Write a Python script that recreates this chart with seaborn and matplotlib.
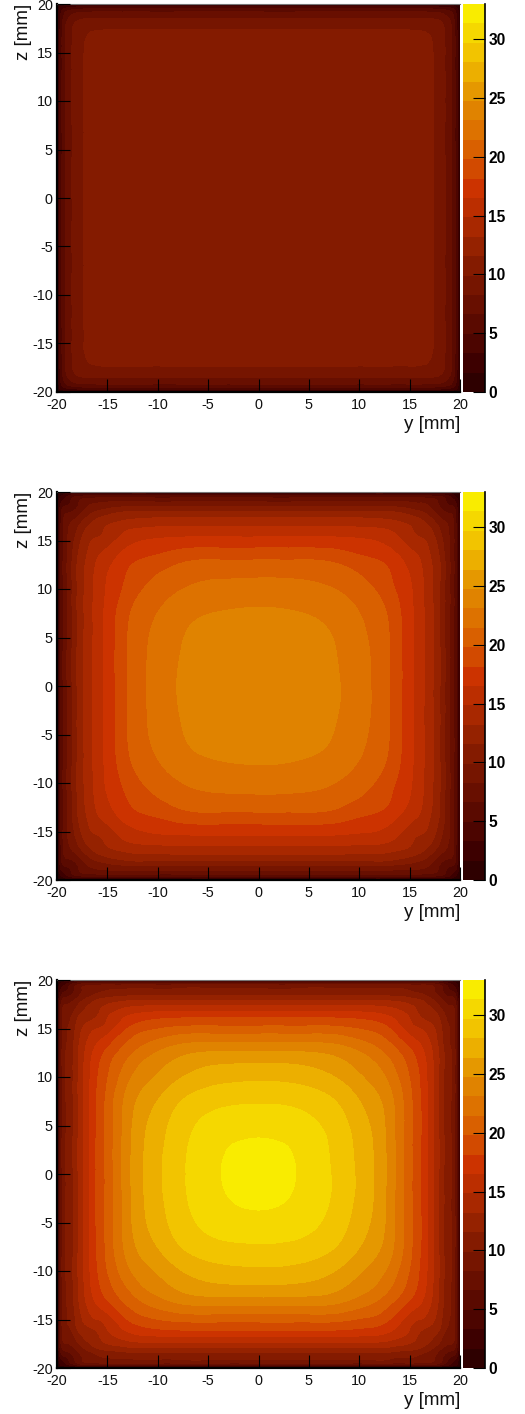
import numpy as np
import pandas as pd
import matplotlib
matplotlib.use('Agg')
import matplotlib.pyplot as plt
import matplotlib.tri as mtri
from matplotlib.colors import ListedColormap, BoundaryNorm
import seaborn as sns

sns.set_theme(style='ticks')
plt.rcParams['font.family'] = ['Liberation Sans', 'DejaVu Sans']
plt.rcParams['axes.unicode_minus'] = False

# distance from the centre in mm, the table is one quadrant of each map
GRID = [0, 4, 8, 11, 13, 15, 16, 17, 18, 19, 19.5, 20]

MAP_TOP = [
    [10.6, 10.6, 10.6, 10.6, 10.6, 10.5, 10.3, 10.05, 9.2, 7.3, 5.0, 0.4],
    [10.6, 10.6, 10.6, 10.6, 10.6, 10.5, 10.3, 10.05, 9.2, 7.3, 5.0, 0.4],
    [10.6, 10.6, 10.6, 10.6, 10.6, 10.5, 10.3, 10.05, 9.2, 7.3, 5.0, 0.4],
    [10.6, 10.6, 10.6, 10.6, 10.6, 10.5, 10.3, 10.05, 9.2, 7.3, 5.0, 0.4],
    [10.6, 10.6, 10.6, 10.6, 10.6, 10.5, 10.3, 10.05, 9.2, 7.3, 5.0, 0.4],
    [10.5, 10.5, 10.5, 10.5, 10.5, 10.4, 10.25, 10.03, 9.2, 7.3, 5.0, 0.4],
    [10.3, 10.3, 10.3, 10.3, 10.3, 10.25, 10.2, 10.0, 9.15, 7.3, 5.0, 0.4],
    [10.05, 10.05, 10.05, 10.05, 10.05, 10.03, 10.0, 9.85, 9.05, 7.25, 4.9, 0.4],
    [9.2, 9.2, 9.2, 9.2, 9.2, 9.2, 9.15, 9.05, 8.6, 7.0, 4.7, 0.4],
    [7.3, 7.3, 7.3, 7.3, 7.3, 7.3, 7.3, 7.25, 7.0, 5.8, 4.0, 0.3],
    [5.0, 5.0, 5.0, 5.0, 5.0, 5.0, 5.0, 4.9, 4.7, 4.0, 2.8, 0.2],
    [0.4, 0.4, 0.4, 0.4, 0.4, 0.4, 0.4, 0.4, 0.4, 0.3, 0.2, 0.1],
]
MAP_MID = [
    [24.6, 24.2, 23.2, 21.6, 19.8, 17.2, 15.6, 13.8, 11.6, 8.4, 6.0, 0.5],
    [24.2, 23.95, 23.0, 21.5, 19.8, 17.2, 15.6, 13.8, 11.6, 8.4, 6.0, 0.5],
    [23.2, 23.0, 22.3, 20.9, 19.4, 17.1, 15.6, 13.8, 11.6, 8.4, 6.0, 0.5],
    [21.6, 21.5, 20.9, 19.7, 18.4, 16.7, 15.4, 13.7, 11.6, 8.4, 6.0, 0.5],
    [19.8, 19.8, 19.4, 18.4, 17.6, 15.9, 14.9, 13.4, 11.5, 8.4, 6.0, 0.5],
    [17.2, 17.2, 17.1, 16.7, 15.9, 14.4, 13.7, 12.7, 10.7, 8.3, 6.0, 0.5],
    [15.6, 15.6, 15.6, 15.4, 14.9, 13.7, 12.6, 11.9, 10.0, 8.1, 5.9, 0.5],
    [13.8, 13.8, 13.8, 13.7, 13.4, 12.7, 11.9, 10.7, 8.9, 7.7, 5.7, 0.5],
    [11.6, 11.6, 11.6, 11.6, 11.5, 10.7, 10.0, 8.9, 7.2, 6.2, 5.2, 0.4],
    [8.4, 8.4, 8.4, 8.4, 8.4, 8.3, 8.1, 7.7, 6.2, 4.5, 3.6, 0.3],
    [6.0, 6.0, 6.0, 6.0, 6.0, 6.0, 5.9, 5.7, 5.2, 3.6, 2.0, 0.2],
    [0.5, 0.5, 0.5, 0.5, 0.5, 0.5, 0.5, 0.5, 0.4, 0.3, 0.2, 0.1],
]
MAP_LOW = [
    [32.6, 31.2, 29.3, 26.9, 24.2, 20.5, 18.4, 15.9, 12.9, 10.2, 8.25, 0.5],
    [31.2, 30.7, 29.0, 26.7, 24.1, 20.5, 18.4, 15.9, 12.9, 10.2, 8.25, 0.5],
    [29.3, 29.0, 27.7, 25.6, 23.6, 20.4, 18.3, 15.9, 12.9, 10.2, 8.25, 0.5],
    [26.9, 26.7, 25.6, 23.9, 22.1, 19.6, 17.9, 15.7, 12.9, 10.2, 8.25, 0.5],
    [24.2, 24.1, 23.6, 22.1, 20.4, 18.3, 16.9, 15.2, 12.7, 10.1, 8.25, 0.5],
    [20.5, 20.5, 20.4, 19.6, 18.3, 15.9, 15.0, 14.0, 12.1, 9.9, 8.2, 0.5],
    [18.4, 18.4, 18.3, 17.9, 16.9, 15.0, 13.5, 12.8, 11.5, 9.4, 8.1, 0.5],
    [15.9, 15.9, 15.9, 15.7, 15.2, 14.0, 12.8, 11.8, 10.3, 8.7, 7.9, 0.5],
    [12.9, 12.9, 12.9, 12.9, 12.7, 12.1, 11.5, 10.3, 8.6, 7.3, 6.5, 0.4],
    [10.2, 10.2, 10.2, 10.2, 10.1, 9.9, 9.4, 8.7, 7.3, 5.0, 4.0, 0.3],
    [8.25, 8.25, 8.25, 8.25, 8.25, 8.2, 8.1, 7.9, 6.5, 4.0, 2.5, 0.2],
    [0.5, 0.5, 0.5, 0.5, 0.5, 0.5, 0.5, 0.5, 0.4, 0.3, 0.2, 0.1],
]

TICKS_MM = [-20, -15, -10, -5, 0, 5, 10, 15, 20]
TICKS_BAR = [0, 5, 10, 15, 20, 25, 30]
Z_MAX = 33.0
N_BANDS = 20
BAND_COLORS = [
    '#2e0000', '#3d0000', '#4c0500', '#5a0a00', '#680f00',
    '#761500', '#841b00', '#952200', '#a82800', '#bb2e00',
    '#cc3300', '#d24a00', '#d96000', '#dd7200', '#e08300',
    '#e59800', '#ecaf00', '#f2c400', '#f5d800', '#f9ec00',
]

W, H = 525, 1414
PANEL_TOPS = [4, 492, 980]
PANEL_H = 388

cmap = ListedColormap(BAND_COLORS)
levels = np.linspace(0, Z_MAX, N_BANDS + 1)
norm = BoundaryNorm(levels, N_BANDS)
coords = np.concatenate([-np.array(GRID[:0:-1]), GRID])

# smoothing runs on the table's row/column numbers, the grid is far from even
index = np.arange(len(coords), dtype=float)
idx_y, idx_z = np.meshgrid(index, index)
triang = mtri.Triangulation(idx_y.ravel(), idx_z.ravel())

# row number -> mm, with the kinks at the grid lines rounded off
step = 0.02
wide_idx = np.arange(-1, len(coords) + step / 2, step)
wide_mm = np.interp(wide_idx, np.r_[-1, index, len(coords)],
                    np.r_[coords[0] - 0.5, coords, coords[-1] + 0.5])
kernel = np.ones(41) / 41
round_mm = np.convolve(wide_mm, kernel, mode='same')


def to_mm(values):
    return np.clip(np.interp(values, wide_idx, round_mm), -20, 20)


def mirror(quadrant):
    q = np.array(quadrant)
    q = np.concatenate([q[:0:-1], q], axis=0)
    return np.concatenate([q[:, :0:-1], q], axis=1)


def draw_panel(fig, top, quadrant):
    bottom = 1 - (top + PANEL_H) / H
    ax = fig.add_axes([57 / W, bottom, 403 / W, PANEL_H / H])
    flat = mirror(quadrant).ravel()
    smooth = mtri.CubicTriInterpolator(triang, flat, kind='min_E')
    fine_tri, fine_val = mtri.UniformTriRefiner(triang).refine_field(
        flat, triinterpolator=smooth, subdiv=3)
    mm_tri = mtri.Triangulation(to_mm(fine_tri.x), to_mm(fine_tri.y), fine_tri.triangles)
    ax.tricontourf(mm_tri, np.clip(fine_val, 0.01, Z_MAX - 0.01),
                   levels=levels, cmap=cmap, norm=norm)
    ax.set_axisbelow(False)
    ax.set_xlim(-20, 20)
    ax.set_ylim(-20, 20)
    ax.set_xticks(TICKS_MM)
    ax.set_yticks(TICKS_MM)
    ax.tick_params(direction='in', length=9.2, width=0.8, color='black',
                   labelsize=10.4, pad=3, labelcolor='#111111')
    ax.tick_params(axis='x', pad=4.6)
    for name in ['left', 'bottom']:
        ax.spines[name].set_linewidth(1.6)
        ax.spines[name].set_color('black')
    ax.spines['right'].set_visible(False)
    ax.spines['top'].set_linestyle((0, (1, 1)))
    ax.spines['top'].set_linewidth(0.8)
    ax.spines['top'].set_color('#777777')
    ax.set_xlabel('y [mm]', fontsize=13.5, loc='right', color='#111111')
    ax.set_ylabel('z [mm]', fontsize=13.5, loc='top', color='#111111')
    ax.xaxis.set_label_coords(1.0, -0.062)
    ax.yaxis.set_label_coords(-0.062, 1.0)

    cax = fig.add_axes([463 / W, bottom, 22 / W, PANEL_H / H])
    band_mids = (levels[:-1] + levels[1:]) / 2
    table = pd.DataFrame({'z': band_mids})
    sns.heatmap(table, ax=cax, cmap=cmap, norm=norm, cbar=False,
                xticklabels=False, yticklabels=False)
    cax.invert_yaxis()
    cax.set_axisbelow(False)
    band = Z_MAX / N_BANDS
    cax.yaxis.tick_right()
    cax.set_yticks([t / band for t in TICKS_BAR])
    cax.set_yticklabels(TICKS_BAR, fontweight='bold', fontsize=11.2, rotation=0)
    cax.tick_params(axis='y', direction='in', length=8.6, width=0.8, color='black',
                    pad=2.5, labelcolor='black')
    cax.tick_params(axis='x', length=0)
    cax.set_ylabel('')
    for name in ['left', 'top', 'bottom']:
        cax.spines[name].set_visible(False)
    cax.spines['right'].set_visible(True)
    cax.spines['right'].set_linewidth(1.2)
    cax.spines['right'].set_color('black')


fig = plt.figure(figsize=(W / 100, H / 100), dpi=100)
for top, quadrant in zip(PANEL_TOPS, [MAP_TOP, MAP_MID, MAP_LOW]):
    draw_panel(fig, top, quadrant)

fig.savefig('out.png', dpi=100)
